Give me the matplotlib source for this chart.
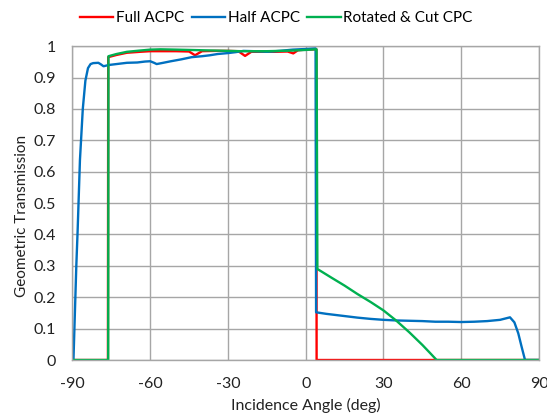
import matplotlib
matplotlib.use("Agg")
import matplotlib.pyplot as plt

plt.rcParams["font.family"] = ["Lato", "DejaVu Sans"]
plt.rcParams["axes.unicode_minus"] = False

# Full ACPC
full_x = [-90, -76.3, -76.2, -73, -69, -64, -60, -56, -50, -45, -42.7, -40, -35, -30,
          -26, -23.4, -21, -17, -12, -7, -4.8, -3, 0, 3.8, 4.1, 4.2, 90]
full_y = [0, 0, 0.965, 0.972, 0.979, 0.982, 0.984, 0.984, 0.984, 0.983, 0.971, 0.984,
          0.985, 0.985, 0.984, 0.969, 0.982, 0.982, 0.982, 0.983, 0.977, 0.987, 0.989,
          0.99, 0.99, 0, 0]

# Half ACPC
half_x = [-89.6, -88.5, -88, -87.1, -86, -85, -84, -83, -82, -80, -79, -78, -76, -72,
          -69, -65, -62, -60, -58.5, -57.5, -55, -52, -48, -44, -40, -37, -34, -30,
          -27, -24, -20, -17, -15, -10, -5, 0, 3.8, 4.0, 8, 15, 20, 25, 30, 35, 40,
          45, 50, 55, 60, 65, 70, 75, 78.8, 80.5, 82, 83.2, 84.6, 90]
half_y = [0, 0.3, 0.41, 0.637, 0.8, 0.89, 0.93, 0.943, 0.946, 0.947, 0.942, 0.936,
          0.94, 0.944, 0.947, 0.948, 0.951, 0.952, 0.947, 0.943, 0.947, 0.952, 0.958,
          0.965, 0.968, 0.971, 0.975, 0.978, 0.981, 0.985, 0.984, 0.983, 0.982, 0.985,
          0.989, 0.991, 0.993, 0.152, 0.147, 0.14, 0.135, 0.131, 0.128, 0.126, 0.125,
          0.124, 0.122, 0.122, 0.121, 0.122, 0.124, 0.128, 0.136, 0.12, 0.085, 0.045,
          0, 0]

# Rotated & Cut CPC
cut_x = [-90, -76.2, -76.1, -73, -69, -64, -60, -56, -50, -45, -40, -35, -30, -25,
         -20, -15, -10, -5, 0, 3.8, 4.2, 4.5, 10, 15, 20, 25, 30, 35, 40, 45, 48,
         50.5, 90]
cut_y = [0, 0, 0.968, 0.975, 0.982, 0.986, 0.989, 0.99, 0.989, 0.988, 0.987, 0.986,
         0.985, 0.984, 0.984, 0.984, 0.985, 0.986, 0.988, 0.99, 0.99, 0.29, 0.262,
         0.237, 0.21, 0.185, 0.158, 0.125, 0.088, 0.048, 0.022, 0, 0]

x_ticks = [-90, -60, -30, 0, 30, 60, 90]
y_ticks = [0, 0.1, 0.2, 0.3, 0.4, 0.5, 0.6, 0.7, 0.8, 0.9, 1]
y_labels = ["0", "0.1", "0.2", "0.3", "0.4", "0.5", "0.6", "0.7", "0.8", "0.9", "1"]

fig = plt.figure(figsize=(5.47, 4.19), dpi=100)
ax = fig.add_axes([0.1324, 0.1408, 0.853, 0.749])

ax.plot(full_x, full_y, color="#ff0000", lw=1.7, label="Full ACPC")
ax.plot(half_x, half_y, color="#0070c0", lw=1.7, label="Half ACPC")
ax.plot(cut_x, cut_y, color="#00b050", lw=1.7, label="Rotated & Cut CPC")

ax.set_xlim(-90, 90)
ax.set_ylim(0, 1)
ax.set_xticks(x_ticks)
ax.set_yticks(y_ticks)
ax.set_yticklabels(y_labels)
ax.tick_params(length=0, labelsize=11.5, colors="#222222", pad=12)
ax.grid(True, color="#a6a6a6", lw=1)
ax.set_axisbelow(True)
for s in ax.spines.values():
    s.set_color("#a6a6a6")
    s.set_linewidth(1)

ax.set_xlabel("Incidence Angle (deg)", fontsize=11.5, color="#222222")
ax.set_ylabel("Geometric Transmission", fontsize=11, color="#222222")
ax.xaxis.set_label_coords(0.5, -0.122)
ax.yaxis.set_label_coords(-0.092, 0.46)

fig.legend(loc="center", bbox_to_anchor=(0.505, 0.957), ncol=3, frameon=False,
           fontsize=11, handlelength=2.2, handletextpad=0.15, columnspacing=0.5)

fig.savefig("out.png", dpi=100)
